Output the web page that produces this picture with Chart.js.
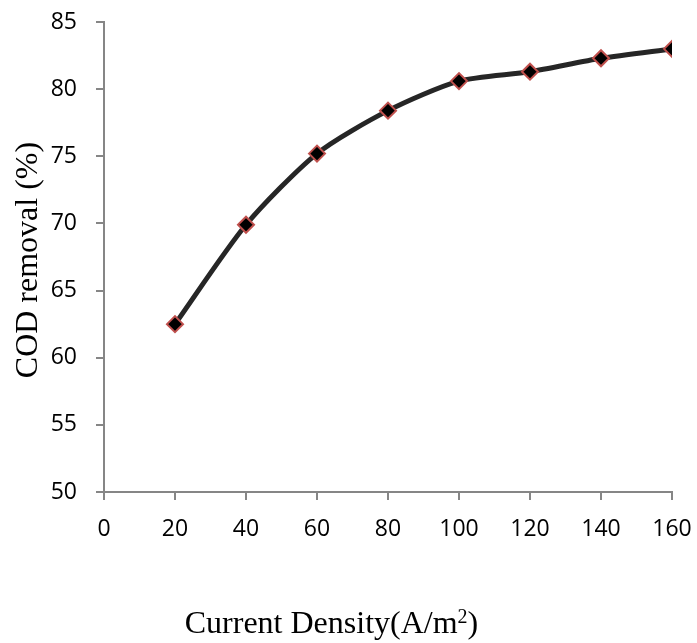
<!DOCTYPE html>
<html>
<head>
<meta charset="utf-8">
<script src="https://cdn.jsdelivr.net/npm/chart.js@4"></script>
<style>
  html, body { margin: 0; padding: 0; background: #fff; }
  canvas { display: block; }
</style>
</head>
<body>
<canvas id="codChart" width="697" height="643"></canvas>
<script>
// current density (A/m2) and COD removal (%)
const currentDensity = [20, 40, 60, 80, 100, 120, 140, 160];
const codRemoval = [62.5, 69.9, 75.2, 78.4, 80.6, 81.3, 82.3, 83.0];

const xTicks = { min: 0, max: 160, step: 20 };
const yTicks = { min: 50, max: 85, step: 5 };

const axisGray = '#868686';
const serif = '"Liberation Serif", "Times New Roman", serif';

// draws the two axis titles (x title has a superscript 2)
const titlesPlugin = {
    id: 'titles',
    afterDraw(chart) {
        const ctx = chart.ctx;
        ctx.save();
        ctx.fillStyle = '#000';
        ctx.textBaseline = 'alphabetic';

        // y title
        ctx.font = '32px ' + serif;
        ctx.translate(37, 260);
        ctx.rotate(-Math.PI / 2);
        ctx.textAlign = 'center';
        ctx.fillText('COD removal (%)', 0, 0);
        ctx.setTransform(1, 0, 0, 1, 0, 0);

        // x title
        const main = 'Current Density(A/m';
        const sup = '2';
        const end = ')';
        const big = '32px ' + serif;
        const small = '20px ' + serif;
        ctx.font = big;
        const w1 = ctx.measureText(main).width;
        const w3 = ctx.measureText(end).width;
        ctx.font = small;
        const w2 = ctx.measureText(sup).width;
        let x = 331.5 - (w1 + w2 + w3) / 2;
        const y = 633;
        ctx.textAlign = 'left';
        ctx.font = big;
        ctx.fillText(main, x, y);
        x += w1;
        ctx.font = small;
        ctx.fillText(sup, x, y - 10);
        x += w2;
        ctx.font = big;
        ctx.fillText(end, x, y);
        ctx.restore();
    }
};

function createChart() {
    const ctx = document.getElementById('codChart').getContext('2d');
    new Chart(ctx, {
        type: 'line',
        data: {
            datasets: [{
                data: currentDensity.map((x, i) => ({ x: x, y: codRemoval[i] })),
                borderColor: '#262626',
                borderWidth: 5,
                pointStyle: 'rectRot',
                pointRadius: 8,
                pointBorderWidth: 2,
                pointBackgroundColor: '#000',
                pointBorderColor: '#c0504d',
                tension: 0.25,
                fill: false
            }]
        },
        options: {
            responsive: false,
            animation: false,
            devicePixelRatio: 1,
            layout: {
                padding: { top: 22, right: 25, left: 0, bottom: 0 }
            },
            plugins: {
                legend: { display: false },
                tooltip: { enabled: false }
            },
            scales: {
                x: {
                    type: 'linear',
                    min: xTicks.min,
                    max: xTicks.max,
                    ticks: {
                        stepSize: xTicks.step,
                        color: '#000',
                        padding: 16,
                        font: { family: '"Open Sans", sans-serif', size: 23 }
                    },
                    grid: {
                        drawOnChartArea: false,
                        drawTicks: true,
                        tickLength: 8,
                        color: axisGray,
                        lineWidth: 2
                    },
                    border: { color: axisGray, width: 2 },
                    afterFit(scale) {
                        scale.height = 151;
                        scale.paddingLeft = 0;
                        scale.paddingRight = 0;
                    }
                },
                y: {
                    min: yTicks.min,
                    max: yTicks.max,
                    ticks: {
                        stepSize: yTicks.step,
                        color: '#000',
                        padding: 19,
                        font: { family: '"Open Sans", sans-serif', size: 23 }
                    },
                    grid: {
                        drawOnChartArea: false,
                        drawTicks: true,
                        tickLength: 8,
                        color: axisGray,
                        lineWidth: 2
                    },
                    border: { color: axisGray, width: 2 },
                    afterFit(scale) {
                        scale.width = 104;
                        scale.paddingTop = 0;
                        scale.paddingBottom = 0;
                    }
                }
            }
        },
        plugins: [titlesPlugin]
    });
}

window.onload = function() {
    createChart();
};
</script>
</body>
</html>
